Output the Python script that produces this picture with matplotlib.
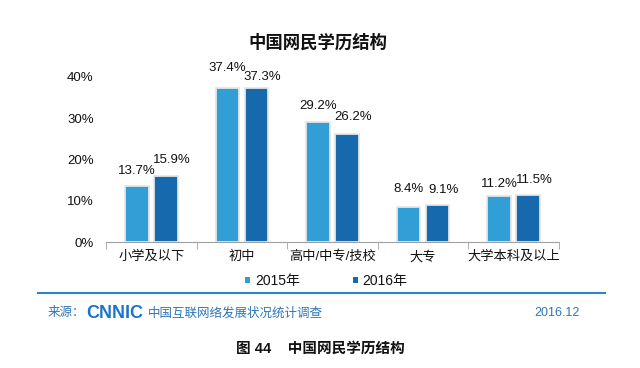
import numpy as np
import matplotlib.pyplot as plt

categories = ['小学及以下', '初中', '高中/中专/技校', '大专', '大学本科及以上']
share_2015 = [13.7, 37.4, 29.2, 8.4, 11.2]
share_2016 = [15.9, 37.3, 26.2, 9.1, 11.5]
series_names = ['2015年', '2016年']
y_ticks = [0, 10, 20, 30, 40]

# label lift above bar top, in pixels (labels are staggered in the original)
lift_2015 = [15, 20, 16, 18, 12]
lift_2016 = [16, 11, 17, 15, 15]

plt.rcParams['font.family'] = ['Liberation Sans', 'Noto Sans CJK SC', 'DejaVu Sans']
plt.rcParams['text.color'] = '#111111'
plt.rcParams['xtick.color'] = '#111111'
plt.rcParams['ytick.color'] = '#111111'

c15 = '#319fd5'
c16 = '#1769ae'
px = 0.72  # points per pixel at dpi 100

fig = plt.figure(figsize=(6.4, 3.68), dpi=100)

ax = fig.add_axes([0.166, 0.342, 0.707, 0.449])
ax.patch.set_alpha(0)
x = np.arange(len(categories))
w = 0.26
b1 = ax.bar(x - 0.16, share_2015, w, color=c15, edgecolor='#e6e6e6', linewidth=1.3, label=series_names[0])
b2 = ax.bar(x + 0.16, share_2016, w, color=c16, edgecolor='#e6e6e6', linewidth=1.3, label=series_names[1])
for bars, vals, lifts, dx in ((b1, share_2015, lift_2015, 0), (b2, share_2016, lift_2016, 6)):
    for r, v, lf in zip(bars, vals, lifts):
        ax.annotate(f'{v:.1f}%', (r.get_x() + r.get_width() / 2, v), xytext=(dx * px, lf * px),
                    textcoords='offset points', ha='center', va='center', fontsize=9.5)

ax.set_xlim(-0.5, len(categories) - 0.5)
ax.set_ylim(0, 40)
ax.set_yticks(y_ticks)
ax.set_yticklabels([f'{t}%' for t in y_ticks], fontsize=9.5)
ax.set_xticks(x)
ax.set_xticklabels(categories, fontsize=9.5)
ax.tick_params(axis='y', length=0, pad=9)
ax.tick_params(axis='x', length=0, pad=6)
ax.set_xticks(np.arange(-0.5, len(categories), 1), minor=True)
ax.tick_params(axis='x', which='minor', length=5, color='#a0a0a0', direction='out')
for s in ('top', 'right', 'left'):
    ax.spines[s].set_visible(False)
ax.spines['bottom'].set_color('#a0a0a0')

fig.text(0.497, 0.885, '中国网民学历结构', ha='center', va='center', fontsize=12.5, fontweight='bold')

leg = fig.legend(handles=[b1, b2], labels=series_names, loc='center', bbox_to_anchor=(0.51, 0.236),
                 ncol=2, frameon=False, fontsize=10, handlelength=0.35, handleheight=0.35,
                 columnspacing=3.8, handletextpad=0.35)
for h in leg.legend_handles:
    h.set_edgecolor('none')

fig.add_artist(plt.Line2D([0.06, 0.945], [0.204, 0.204], color='#2e86c8', linewidth=1.5))
fig.text(0.075, 0.149, '来源：', ha='left', va='center', fontsize=9, color='#2e75b6')
fig.text(0.135, 0.149, 'CNNIC', ha='left', va='center', fontsize=13, fontweight='bold', color='#1a75c8')
fig.text(0.231, 0.149, '中国互联网络发展状况统计调查', ha='left', va='center', fontsize=9, color='#2e75b6')
fig.text(0.905, 0.149, '2016.12', ha='right', va='center', fontsize=9, color='#2e75b6')

fig.text(0.5, 0.052, '图 44    中国网民学历结构', ha='center', va='center', fontsize=10.5, fontweight='bold')

fig.savefig('out.png', dpi=100)
